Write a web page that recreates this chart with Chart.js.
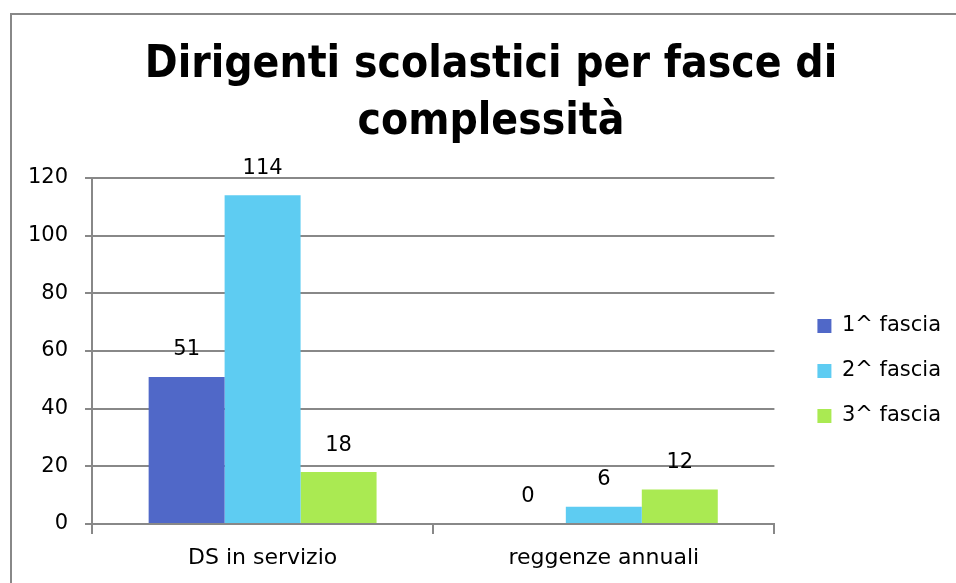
<!DOCTYPE html>
<html>
<head>
<meta charset="utf-8">
<script src="https://cdn.jsdelivr.net/npm/chart.js@4"></script>
<style>
  html, body { margin: 0; padding: 0; background: #fff; }
  #wrap { width: 956px; height: 583px; position: relative; }
  #title {
    position: absolute;
    left: 26px;
    width: 930px;
    top: 33px;
    margin: 0;
    text-align: center;
    font-family: 'DejaVu Sans Condensed', 'DejaVu Sans', sans-serif;
    font-size: 44px;
    font-weight: bold;
    line-height: 57px;
    color: #000;
  }
</style>
</head>
<body>
<div id="wrap">
  <canvas id="chart"></canvas>
  <h1 id="title">Dirigenti scolastici per fasce di<br>complessità</h1>
</div>
<script>
// Chart data
const categories = ['DS in servizio', 'reggenze annuali'];
const seriesNames = ['1^ fascia', '2^ fascia', '3^ fascia'];
const fascia1 = [51, 0];
const fascia2 = [114, 6];
const fascia3 = [18, 12];
const seriesColors = ['#5068C8', '#5ECCF2', '#AAEA52'];

const FONT = "'DejaVu Sans', sans-serif";
const GREY = '#888888';

// Outer frame (only top/left edges are visible in the picture)
const framePlugin = {
    id: 'frame',
    beforeDraw(chart) {
        const ctx = chart.ctx;
        ctx.save();
        ctx.strokeStyle = GREY;
        ctx.lineWidth = 2;
        ctx.strokeRect(11, 14, 2000, 2000);
        ctx.restore();
    }
};

// Nudge the legend box further from the plot, like the original layout
const legendShift = {
    id: 'legendShift',
    afterUpdate(chart) {
        const lg = chart.legend;
        if (!lg) return;
        const dx = 19, dy = -9;
        lg.left += dx; lg.right += dx;
        lg.top += dy; lg.bottom += dy;
        lg.adjustHitBoxes();
    }
};

// Value labels above each bar
const valueLabels = {
    id: 'valueLabels',
    afterDatasetsDraw(chart) {
        const ctx = chart.ctx;
        ctx.save();
        ctx.font = '21px ' + FONT;
        ctx.fillStyle = '#000';
        ctx.textAlign = 'center';
        ctx.textBaseline = 'middle';
        chart.data.datasets.forEach((ds, i) => {
            chart.getDatasetMeta(i).data.forEach((bar, j) => {
                ctx.fillText(String(ds.data[j]), bar.x, bar.y - 27);
            });
        });
        ctx.restore();
    }
};

new Chart(document.getElementById('chart'), {
    type: 'bar',
    data: {
        labels: categories,
        datasets: [
            { label: seriesNames[0], data: fascia1, backgroundColor: seriesColors[0] },
            { label: seriesNames[1], data: fascia2, backgroundColor: seriesColors[1] },
            { label: seriesNames[2], data: fascia3, backgroundColor: seriesColors[2] }
        ]
    },
    options: {
        responsive: true,
        maintainAspectRatio: false,
        animation: false,
        layout: { padding: { left: 12, right: 24, top: 178, bottom: 1 } },
        datasets: {
            bar: { categoryPercentage: 0.668, barPercentage: 1.0 }
        },
        plugins: {
            title: { display: false },
            legend: {
                position: 'right',
                labels: {
                    color: '#000',
                    font: { family: FONT, size: 21 },
                    boxWidth: 14,
                    boxHeight: 14,
                    padding: 24
                }
            },
            tooltip: { enabled: false }
        },
        scales: {
            x: {
                grid: {
                    display: true,
                    drawOnChartArea: false,
                    offset: true,
                    color: GREY,
                    lineWidth: 2,
                    tickLength: 10
                },
                border: { color: GREY, width: 2 },
                ticks: {
                    color: '#000',
                    font: { family: FONT, size: 22, lineHeight: 1.0 },
                    padding: 13
                }
            },
            y: {
                min: 0,
                max: 120,
                ticks: {
                    stepSize: 20,
                    color: '#000',
                    font: { family: FONT, size: 21 },
                    padding: 17
                },
                grid: { color: GREY, lineWidth: 2, tickLength: 7 },
                border: { color: GREY, width: 2 },
                afterFit(scale) { scale.width = 80; }
            }
        }
    },
    plugins: [framePlugin, legendShift, valueLabels]
});
</script>
</body>
</html>
